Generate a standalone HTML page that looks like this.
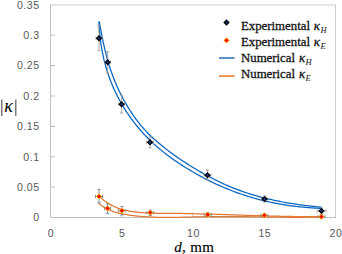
<!DOCTYPE html>
<html><head><meta charset="utf-8"><style>
html,body{margin:0;padding:0;background:#fff;}
body{width:342px;height:254px;overflow:hidden;}
svg{display:block;}
.ax text{font-family:"Liberation Sans",sans-serif;font-size:10.6px;fill:#595959;letter-spacing:0.5px;}
.lg text{font-family:"Liberation Serif",serif;font-size:12.8px;fill:#111;stroke:#111;stroke-width:0.28px;}
</style></head><body>
<svg width="342" height="254" viewBox="0 0 342 254">
<rect width="342" height="254" fill="#fff"/>
<path d="M50.5 4.9H335.5V217" stroke="#cccccc" stroke-width="1" fill="none"/>
<path d="M50.5 4.4V217.5H336" stroke="#bfbfbf" stroke-width="1" fill="none"/>
<path d="M51 187.1h4M51 156.7h4M51 126.4h4M51 96.0h4M51 65.6h4M51 35.2h4M121.8 217v-3M193.0 217v-3M264.2 217v-3" stroke="#bfbfbf" stroke-width="1"/>
<g class="ax">
<text x="39.6" y="221.3" text-anchor="end">0</text>
<text x="39.6" y="190.9" text-anchor="end">0.05</text>
<text x="39.6" y="160.5" text-anchor="end">0.1</text>
<text x="39.6" y="130.2" text-anchor="end">0.15</text>
<text x="39.6" y="99.8" text-anchor="end">0.2</text>
<text x="39.6" y="69.4" text-anchor="end">0.25</text>
<text x="39.6" y="39.0" text-anchor="end">0.3</text>
<text x="39.6" y="8.6" text-anchor="end">0.35</text>

<text x="51.0" y="236.8" text-anchor="middle">0</text>
<text x="122.2" y="236.8" text-anchor="middle">5</text>
<text x="193.5" y="236.8" text-anchor="middle">10</text>
<text x="264.8" y="236.8" text-anchor="middle">15</text>
<text x="336.0" y="236.8" text-anchor="middle">20</text>

</g>
<path d="M99.22 21.52 L99.48 22.95 L99.74 24.37 L100.01 25.80 L100.27 27.22 L100.54 28.64 L100.81 30.06 L101.08 31.48 L101.35 32.90 L101.63 34.32 L101.91 35.73 L102.20 37.15 L102.48 38.56 L102.78 39.97 L103.07 41.38 L103.37 42.79 L103.68 44.19 L103.99 45.60 L104.31 47.00 L104.63 48.40 L104.96 49.80 L105.30 51.20 L105.64 52.59 L105.99 53.99 L106.35 55.38 L106.72 56.77 L107.09 58.16 L107.47 59.54 L107.86 60.93 L108.26 62.31 L108.67 63.69 L109.09 65.06 L109.52 66.44 L109.96 67.81 L110.41 69.18 L110.87 70.55 L111.34 71.92 L111.82 73.28 L112.31 74.64 L112.81 76.00 L113.33 77.36 L113.85 78.71 L114.38 80.06 L114.93 81.40 L115.49 82.74 L116.05 84.08 L116.63 85.41 L117.22 86.74 L117.82 88.07 L118.43 89.39 L119.05 90.70 L119.68 92.01 L120.32 93.32 L120.97 94.62 L121.63 95.91 L122.30 97.20 L122.98 98.49 L123.67 99.77 L124.37 101.04 L125.09 102.31 L125.81 103.56 L126.54 104.82 L127.28 106.06 L128.04 107.30 L128.80 108.54 L129.57 109.76 L130.36 110.98 L131.15 112.19 L131.95 113.40 L132.76 114.59 L133.59 115.78 L134.42 116.96 L135.26 118.13 L136.11 119.29 L136.98 120.45 L137.85 121.59 L138.74 122.72 L139.64 123.85 L140.54 124.96 L141.46 126.06 L142.40 127.15 L143.34 128.23 L144.30 129.30 L145.27 130.36 L146.25 131.41 L147.25 132.44 L148.26 133.46 L149.27 134.48 L150.30 135.48 L151.34 136.47 L152.39 137.45 L153.45 138.42 L154.52 139.39 L155.59 140.34 L156.68 141.29 L157.77 142.23 L158.87 143.16 L159.97 144.09 L161.09 145.01 L162.20 145.92 L163.33 146.83 L164.46 147.72 L165.59 148.62 L166.74 149.50 L167.88 150.38 L169.03 151.26 L170.19 152.13 L171.36 152.99 L172.52 153.84 L173.70 154.69 L174.87 155.53 L176.05 156.37 L177.24 157.20 L178.43 158.03 L179.63 158.85 L180.83 159.66 L182.03 160.47 L183.24 161.27 L184.45 162.06 L185.67 162.85 L186.89 163.64 L188.11 164.42 L189.34 165.19 L190.57 165.96 L191.80 166.72 L193.04 167.47 L194.28 168.22 L195.52 168.97 L196.77 169.71 L198.02 170.44 L199.27 171.17 L200.52 171.90 L201.78 172.61 L203.04 173.33 L204.30 174.03 L205.57 174.74 L206.83 175.43 L208.10 176.12 L209.38 176.80 L210.65 177.48 L211.93 178.15 L213.21 178.81 L214.50 179.47 L215.79 180.12 L217.08 180.76 L218.37 181.40 L219.67 182.02 L220.97 182.64 L222.28 183.25 L223.59 183.86 L224.90 184.45 L226.21 185.04 L227.53 185.61 L228.86 186.18 L230.18 186.74 L231.52 187.30 L232.85 187.84 L234.19 188.37 L235.53 188.90 L236.88 189.41 L238.23 189.92 L239.58 190.42 L240.94 190.91 L242.30 191.39 L243.66 191.86 L245.03 192.33 L246.40 192.78 L247.77 193.23 L249.15 193.67 L250.52 194.10 L251.91 194.53 L253.29 194.94 L254.68 195.35 L256.06 195.75 L257.46 196.15 L258.85 196.53 L260.25 196.91 L261.65 197.28 L263.05 197.65 L264.45 198.00 L265.86 198.35 L267.26 198.69 L268.67 199.03 L270.08 199.36 L271.50 199.68 L272.91 199.99 L274.33 200.30 L275.74 200.60 L277.16 200.89 L278.58 201.18 L280.01 201.46 L281.43 201.74 L282.85 202.01 L284.28 202.27 L285.71 202.52 L287.13 202.77 L288.56 203.02 L289.99 203.26 L291.42 203.49 L292.85 203.72 L294.28 203.94 L295.72 204.15 L297.15 204.36 L298.58 204.57 L300.01 204.76 L301.45 204.96 L302.88 205.15 L304.31 205.33 L305.75 205.51 L307.18 205.68 L308.61 205.85 L310.04 206.01 L311.48 206.17 L312.91 206.32 L314.34 206.47 L315.77 206.62 L317.20 206.76 L318.63 206.89 L320.06 207.02 L321.49 207.15" stroke="#0864c0" stroke-width="1.25" fill="none"/>
<path d="M98.97 21.54 L99.03 23.00 L99.09 24.45 L99.16 25.91 L99.25 27.37 L99.34 28.82 L99.45 30.28 L99.57 31.74 L99.69 33.20 L99.83 34.66 L99.98 36.11 L100.14 37.57 L100.31 39.03 L100.49 40.48 L100.68 41.94 L100.88 43.39 L101.10 44.84 L101.32 46.30 L101.56 47.75 L101.81 49.19 L102.07 50.64 L102.34 52.08 L102.63 53.52 L102.93 54.96 L103.23 56.40 L103.55 57.83 L103.89 59.27 L104.23 60.69 L104.59 62.12 L104.96 63.54 L105.34 64.96 L105.73 66.37 L106.14 67.79 L106.56 69.19 L106.99 70.59 L107.43 71.99 L107.89 73.39 L108.36 74.78 L108.84 76.16 L109.34 77.54 L109.84 78.92 L110.36 80.29 L110.90 81.66 L111.44 83.02 L112.00 84.38 L112.57 85.73 L113.15 87.07 L113.74 88.41 L114.34 89.75 L114.96 91.08 L115.59 92.40 L116.23 93.72 L116.88 95.04 L117.54 96.34 L118.21 97.65 L118.90 98.94 L119.59 100.23 L120.30 101.51 L121.02 102.79 L121.75 104.06 L122.49 105.32 L123.25 106.58 L124.01 107.83 L124.78 109.08 L125.57 110.31 L126.36 111.55 L127.17 112.77 L127.99 113.99 L128.81 115.20 L129.65 116.40 L130.50 117.59 L131.36 118.78 L132.22 119.96 L133.10 121.13 L133.99 122.30 L134.89 123.46 L135.80 124.60 L136.72 125.75 L137.65 126.88 L138.58 128.00 L139.53 129.12 L140.49 130.23 L141.46 131.33 L142.43 132.42 L143.42 133.51 L144.41 134.58 L145.42 135.65 L146.43 136.70 L147.45 137.75 L148.48 138.79 L149.53 139.82 L150.57 140.84 L151.63 141.86 L152.70 142.86 L153.78 143.85 L154.86 144.84 L155.95 145.81 L157.06 146.77 L158.17 147.73 L159.28 148.68 L160.41 149.61 L161.54 150.54 L162.68 151.46 L163.83 152.37 L164.98 153.28 L166.14 154.17 L167.31 155.06 L168.49 155.94 L169.67 156.81 L170.85 157.67 L172.05 158.53 L173.24 159.37 L174.45 160.22 L175.66 161.05 L176.87 161.88 L178.09 162.70 L179.31 163.51 L180.54 164.32 L181.77 165.12 L183.01 165.92 L184.25 166.71 L185.49 167.49 L186.74 168.27 L187.99 169.04 L189.25 169.80 L190.51 170.56 L191.77 171.31 L193.04 172.05 L194.31 172.79 L195.59 173.51 L196.87 174.24 L198.15 174.95 L199.44 175.66 L200.73 176.36 L202.02 177.06 L203.32 177.75 L204.62 178.43 L205.93 179.10 L207.24 179.77 L208.55 180.43 L209.87 181.08 L211.18 181.73 L212.51 182.37 L213.83 183.00 L215.16 183.62 L216.49 184.24 L217.83 184.84 L219.16 185.44 L220.51 186.04 L221.85 186.62 L223.20 187.20 L224.55 187.77 L225.90 188.34 L227.26 188.89 L228.61 189.44 L229.98 189.98 L231.34 190.51 L232.71 191.04 L234.08 191.56 L235.45 192.07 L236.83 192.57 L238.20 193.06 L239.58 193.55 L240.97 194.03 L242.35 194.50 L243.74 194.96 L245.13 195.42 L246.53 195.87 L247.92 196.31 L249.32 196.74 L250.72 197.16 L252.12 197.58 L253.53 197.99 L254.94 198.39 L256.35 198.78 L257.76 199.17 L259.17 199.54 L260.59 199.91 L262.01 200.27 L263.43 200.62 L264.85 200.97 L266.28 201.30 L267.70 201.63 L269.13 201.95 L270.56 202.26 L272.00 202.57 L273.43 202.86 L274.87 203.15 L276.31 203.43 L277.75 203.70 L279.19 203.96 L280.63 204.22 L282.08 204.46 L283.53 204.70 L284.98 204.93 L286.43 205.15 L287.88 205.37 L289.33 205.57 L290.79 205.77 L292.24 205.96 L293.70 206.15 L295.16 206.33 L296.62 206.50 L298.08 206.66 L299.54 206.81 L301.00 206.96 L302.46 207.11 L303.93 207.24 L305.39 207.37 L306.86 207.50 L308.32 207.61 L309.79 207.72 L311.26 207.83 L312.72 207.93 L314.19 208.02 L315.66 208.11 L317.13 208.19 L318.60 208.27 L320.07 208.34 L321.53 208.41" stroke="#0864c0" stroke-width="1.25" fill="none"/>
<path d="M99.10 196.14 L99.88 196.87 L100.66 197.59 L101.46 198.29 L102.27 198.98 L103.09 199.65 L103.91 200.30 L104.75 200.94 L105.59 201.55 L106.45 202.16 L107.31 202.74 L108.18 203.30 L109.07 203.85 L109.95 204.38 L110.85 204.89 L111.76 205.38 L112.67 205.85 L113.59 206.31 L114.52 206.74 L115.46 207.16 L116.41 207.55 L117.36 207.93 L118.32 208.29 L119.28 208.62 L120.26 208.94 L121.24 209.24 L122.22 209.52 L123.21 209.79 L124.20 210.04 L125.20 210.28 L126.21 210.50 L127.21 210.71 L128.22 210.90 L129.24 211.09 L130.25 211.26 L131.27 211.42 L132.29 211.58 L133.31 211.72 L134.33 211.86 L135.35 211.99 L136.37 212.11 L137.40 212.22 L138.42 212.32 L139.45 212.42 L140.48 212.51 L141.51 212.60 L142.54 212.68 L143.57 212.75 L144.60 212.82 L145.63 212.88 L146.66 212.93 L147.70 212.98 L148.73 213.03 L149.77 213.07 L150.80 213.11 L151.84 213.14 L152.87 213.17 L153.91 213.20 L154.95 213.22 L155.99 213.24 L157.02 213.26 L158.06 213.27 L159.10 213.29 L160.14 213.30 L161.18 213.31 L162.22 213.32 L163.26 213.32 L164.30 213.33 L165.33 213.33 L166.37 213.34 L167.41 213.34 L168.45 213.35 L169.49 213.36 L170.53 213.36 L171.57 213.37 L172.61 213.38 L173.65 213.39 L174.68 213.40 L175.72 213.41 L176.76 213.42 L177.80 213.43 L178.83 213.44 L179.87 213.46 L180.91 213.47 L181.94 213.49 L182.98 213.50 L184.02 213.52 L185.05 213.54 L186.09 213.56 L187.13 213.57 L188.16 213.59 L189.20 213.61 L190.23 213.63 L191.27 213.66 L192.30 213.68 L193.34 213.70 L194.37 213.72 L195.41 213.75 L196.44 213.77 L197.48 213.79 L198.51 213.82 L199.55 213.84 L200.58 213.87 L201.62 213.90 L202.65 213.92 L203.68 213.95 L204.72 213.98 L205.75 214.01 L206.79 214.04 L207.82 214.06 L208.85 214.09 L209.89 214.12 L210.92 214.15 L211.95 214.18 L212.99 214.21 L214.02 214.25 L215.05 214.28 L216.08 214.31 L217.12 214.34 L218.15 214.37 L219.18 214.40 L220.21 214.44 L221.25 214.47 L222.28 214.50 L223.31 214.54 L224.34 214.57 L225.38 214.60 L226.41 214.64 L227.44 214.67 L228.47 214.70 L229.51 214.74 L230.54 214.77 L231.57 214.81 L232.60 214.84 L233.63 214.88 L234.66 214.91 L235.70 214.94 L236.73 214.98 L237.76 215.01 L238.79 215.05 L239.82 215.08 L240.86 215.12 L241.89 215.15 L242.92 215.18 L243.95 215.22 L244.98 215.25 L246.01 215.29 L247.05 215.32 L248.08 215.35 L249.11 215.39 L250.14 215.42 L251.17 215.45 L252.20 215.49 L253.24 215.52 L254.27 215.55 L255.30 215.59 L256.33 215.62 L257.36 215.65 L258.40 215.68 L259.43 215.71 L260.46 215.74 L261.49 215.77 L262.52 215.80 L263.56 215.83 L264.59 215.86 L265.62 215.89 L266.65 215.92 L267.69 215.95 L268.72 215.98 L269.75 216.01 L270.78 216.04 L271.81 216.06 L272.85 216.09 L273.88 216.12 L274.91 216.14 L275.95 216.17 L276.98 216.19 L278.01 216.21 L279.04 216.24 L280.08 216.26 L281.11 216.28 L282.14 216.31 L283.18 216.33 L284.21 216.35 L285.25 216.37 L286.28 216.39 L287.31 216.41 L288.35 216.42 L289.38 216.44 L290.42 216.46 L291.45 216.47 L292.48 216.49 L293.52 216.51 L294.55 216.52 L295.59 216.53 L296.62 216.55 L297.66 216.56 L298.69 216.57 L299.73 216.58 L300.76 216.59 L301.80 216.60 L302.84 216.60 L303.87 216.61 L304.91 216.62 L305.94 216.62 L306.98 216.63 L308.02 216.63 L309.05 216.63 L310.09 216.63 L311.13 216.63 L312.16 216.63 L313.20 216.63 L314.24 216.63 L315.28 216.63 L316.31 216.62 L317.35 216.62 L318.39 216.61 L319.43 216.60 L320.47 216.59 L321.51 216.58" stroke="#e27833" stroke-width="1.25" fill="none"/>
<path d="M98.53 202.93 L99.34 203.66 L100.15 204.35 L100.98 205.02 L101.82 205.66 L102.68 206.27 L103.55 206.86 L104.43 207.41 L105.31 207.94 L106.21 208.45 L107.13 208.93 L108.04 209.39 L108.97 209.83 L109.91 210.24 L110.86 210.64 L111.81 211.01 L112.77 211.36 L113.74 211.69 L114.72 212.00 L115.70 212.30 L116.68 212.58 L117.67 212.84 L118.67 213.09 L119.67 213.32 L120.67 213.54 L121.68 213.75 L122.69 213.95 L123.70 214.14 L124.71 214.32 L125.72 214.49 L126.74 214.66 L127.75 214.82 L128.77 214.97 L129.79 215.12 L130.81 215.26 L131.82 215.40 L132.84 215.53 L133.86 215.66 L134.88 215.78 L135.90 215.90 L136.92 216.01 L137.95 216.12 L138.97 216.22 L139.99 216.31 L141.01 216.40 L142.04 216.49 L143.06 216.57 L144.09 216.65 L145.11 216.73 L146.14 216.79 L147.17 216.86 L148.19 216.92 L149.22 216.98 L150.25 217.03 L151.28 217.08 L152.31 217.12 L153.33 217.17 L154.36 217.21 L155.39 217.24 L156.42 217.27 L157.45 217.30 L158.49 217.33 L159.52 217.35 L160.55 217.37 L161.58 217.38 L162.61 217.40 L163.64 217.41 L164.68 217.41 L165.71 217.42 L166.74 217.42 L167.78 217.42 L168.81 217.42 L169.84 217.42 L170.88 217.41 L171.91 217.41 L172.95 217.40 L173.98 217.39 L175.01 217.37 L176.05 217.36 L177.08 217.34 L178.12 217.33 L179.15 217.31 L180.19 217.29 L181.23 217.27 L182.26 217.24 L183.30 217.22 L184.33 217.20 L185.37 217.17 L186.40 217.15 L187.44 217.12 L188.47 217.10 L189.51 217.07 L190.55 217.04 L191.58 217.02 L192.62 216.99 L193.65 216.96 L194.69 216.94 L195.72 216.91 L196.76 216.88 L197.79 216.86 L198.83 216.83 L199.86 216.81 L200.90 216.78 L201.93 216.76 L202.97 216.74 L204.00 216.71 L205.03 216.69 L206.07 216.67 L207.10 216.66 L208.14 216.64 L209.17 216.62 L210.20 216.61 L211.23 216.60 L212.27 216.58 L213.30 216.57 L214.33 216.56 L215.36 216.55 L216.40 216.55 L217.43 216.54 L218.46 216.54 L219.49 216.53 L220.52 216.53 L221.55 216.53 L222.58 216.52 L223.61 216.52 L224.65 216.52 L225.68 216.53 L226.71 216.53 L227.74 216.53 L228.77 216.53 L229.80 216.54 L230.83 216.54 L231.86 216.55 L232.89 216.56 L233.91 216.56 L234.94 216.57 L235.97 216.58 L237.00 216.59 L238.03 216.60 L239.06 216.61 L240.09 216.62 L241.12 216.63 L242.15 216.65 L243.18 216.66 L244.21 216.67 L245.23 216.68 L246.26 216.70 L247.29 216.71 L248.32 216.73 L249.35 216.74 L250.38 216.76 L251.40 216.77 L252.43 216.79 L253.46 216.80 L254.49 216.82 L255.52 216.83 L256.55 216.85 L257.57 216.86 L258.60 216.88 L259.63 216.90 L260.66 216.91 L261.69 216.93 L262.72 216.95 L263.74 216.96 L264.77 216.98 L265.80 216.99 L266.83 217.01 L267.86 217.02 L268.89 217.04 L269.92 217.06 L270.94 217.07 L271.97 217.08 L273.00 217.10 L274.03 217.11 L275.06 217.13 L276.09 217.14 L277.12 217.15 L278.15 217.17 L279.18 217.18 L280.20 217.19 L281.23 217.20 L282.26 217.21 L283.29 217.22 L284.32 217.23 L285.35 217.24 L286.38 217.25 L287.41 217.26 L288.44 217.26 L289.47 217.27 L290.50 217.28 L291.53 217.28 L292.56 217.29 L293.60 217.29 L294.63 217.29 L295.66 217.29 L296.69 217.29 L297.72 217.29 L298.75 217.29 L299.78 217.29 L300.82 217.29 L301.85 217.28 L302.88 217.28 L303.91 217.27 L304.95 217.27 L305.98 217.26 L307.01 217.25 L308.05 217.24 L309.08 217.23 L310.11 217.22 L311.15 217.20 L312.18 217.19 L313.22 217.17 L314.25 217.15 L315.29 217.13 L316.32 217.11 L317.36 217.09 L318.39 217.07 L319.43 217.04 L320.47 217.02 L321.50 216.99" stroke="#e27833" stroke-width="1.25" fill="none"/>
<path d="M99.00 25.50V50.70M97.40 25.50h3.2M97.40 50.70h3.2M96.00 38.20h6.00M96.00 36.60v3.2M102.00 36.60v3.2M107.70 51.60V73.30M106.10 51.60h3.2M106.10 73.30h3.2M104.70 62.20h6.00M104.70 60.60v3.2M110.70 60.60v3.2M121.60 95.00V113.00M120.00 95.00h3.2M120.00 113.00h3.2M118.60 104.20h6.00M118.60 102.60v3.2M124.60 102.60v3.2M150.00 136.90V147.70M148.40 136.90h3.2M148.40 147.70h3.2M146.50 142.30h7.00M146.50 140.70v3.2M153.50 140.70v3.2M207.50 170.00V180.00M205.90 170.00h3.2M205.90 180.00h3.2M204.00 175.20h7.00M204.00 173.60v3.2M211.00 173.60v3.2M264.60 196.00V202.00M263.00 196.00h3.2M263.00 202.00h3.2M261.10 199.10h7.00M261.10 197.50v3.2M268.10 197.50v3.2M321.50 208.00V214.00M319.90 208.00h3.2M319.90 214.00h3.2M317.20 210.90h8.60M317.20 209.30v3.2M325.80 209.30v3.2" stroke="#9a948e" stroke-width="0.8" fill="none"/>
<path d="M99.00 189.40V202.80M97.40 189.40h3.2M97.40 202.80h3.2M95.50 196.40h7.00M95.50 194.80v3.2M102.50 194.80v3.2M107.50 203.90V213.60M105.90 203.90h3.2M105.90 213.60h3.2M104.50 208.40h6.00M104.50 206.80v3.2M110.50 206.80v3.2M121.90 206.50V215.00M120.30 206.50h3.2M120.30 215.00h3.2M118.40 210.70h7.00M118.40 209.10v3.2M125.40 209.10v3.2M150.30 210.00V215.50M148.70 210.00h3.2M148.70 215.50h3.2M146.80 212.60h7.00M146.80 211.00v3.2M153.80 211.00v3.2M207.70 212.50V216.50M206.10 212.50h3.2M206.10 216.50h3.2M204.20 214.70h7.00M204.20 213.10v3.2M211.20 213.10v3.2M264.30 213.50V217.00M262.70 213.50h3.2M262.70 217.00h3.2M260.80 215.30h7.00M260.80 213.70v3.2M267.80 213.70v3.2M321.40 214.50V218.50M319.80 214.50h3.2M319.80 218.50h3.2M317.90 216.70h7.00M317.90 215.10v3.2M324.90 215.10v3.2" stroke="#6b7a8c" stroke-width="0.8" fill="none"/>
<path d="M99.00 35.90L101.30 38.20L99.00 40.50L96.70 38.20ZM107.70 59.90L110.00 62.20L107.70 64.50L105.40 62.20ZM121.60 101.90L123.90 104.20L121.60 106.50L119.30 104.20ZM150.00 140.00L152.30 142.30L150.00 144.60L147.70 142.30ZM207.50 172.90L209.80 175.20L207.50 177.50L205.20 175.20ZM264.60 196.80L266.90 199.10L264.60 201.40L262.30 199.10ZM321.50 208.60L323.80 210.90L321.50 213.20L319.20 210.90Z" fill="#1a3a9a" stroke="#000" stroke-width="1.3"/>
<path d="M99.00 193.80L101.60 196.40L99.00 199.00L96.40 196.40ZM107.50 205.80L110.10 208.40L107.50 211.00L104.90 208.40ZM121.90 208.10L124.50 210.70L121.90 213.30L119.30 210.70ZM150.30 210.00L152.90 212.60L150.30 215.20L147.70 212.60ZM207.70 212.10L210.30 214.70L207.70 217.30L205.10 214.70ZM264.30 212.70L266.90 215.30L264.30 217.90L261.70 215.30ZM321.40 214.10L324.00 216.70L321.40 219.30L318.80 216.70Z" fill="#ff0000" stroke="#ffc000" stroke-width="0.9"/>
<g class="lg">
<path d="M226.5 20.1L228.9 22.5L226.5 24.9L224.1 22.5Z" fill="#102a70" stroke="#000" stroke-width="1.2"/>
<path d="M226.5 37.8L229.1 40.4L226.5 43.0L223.9 40.4Z" fill="#ff0000" stroke="#ffc000" stroke-width="0.9"/>
<path d="M219 58H234.5" stroke="#2e75b6" stroke-width="1.6"/>
<path d="M219 76.1H234.5" stroke="#ed7d31" stroke-width="1.6"/>
<text x="241" y="30.2">Experimental <tspan font-style="italic" dx="0.7">κ</tspan><tspan font-style="italic" font-size="8.5px" dx="0.4" dy="2.5" stroke-width="0">H</tspan></text>
<text x="241" y="46.3">Experimental <tspan font-style="italic" dx="0.7">κ</tspan><tspan font-style="italic" font-size="8.5px" dx="0.4" dy="2.5" stroke-width="0">E</tspan></text>
<text x="241" y="62.2">Numerical <tspan font-style="italic" dx="0.7">κ</tspan><tspan font-style="italic" font-size="8.5px" dx="0.4" dy="2.5" stroke-width="0">H</tspan></text>
<text x="241" y="78.0">Numerical <tspan font-style="italic" dx="0.7">κ</tspan><tspan font-style="italic" font-size="8.5px" dx="0.4" dy="2.5" stroke-width="0">E</tspan></text>
</g>
<rect x="1" y="99.5" width="1.5" height="16.4" fill="#7a7a7a"/><rect x="15" y="99.5" width="1.5" height="16.4" fill="#7a7a7a"/>
<text x="4.3" y="112" font-family="Liberation Serif" font-style="italic" font-size="18px" fill="#000">κ</text>
<text x="174.2" y="251.6" font-family="Liberation Serif" font-size="15px" letter-spacing="0.35" fill="#000" stroke="#000" stroke-width="0.15"><tspan font-style="italic">d</tspan>, mm</text>
</svg>
</body></html>
